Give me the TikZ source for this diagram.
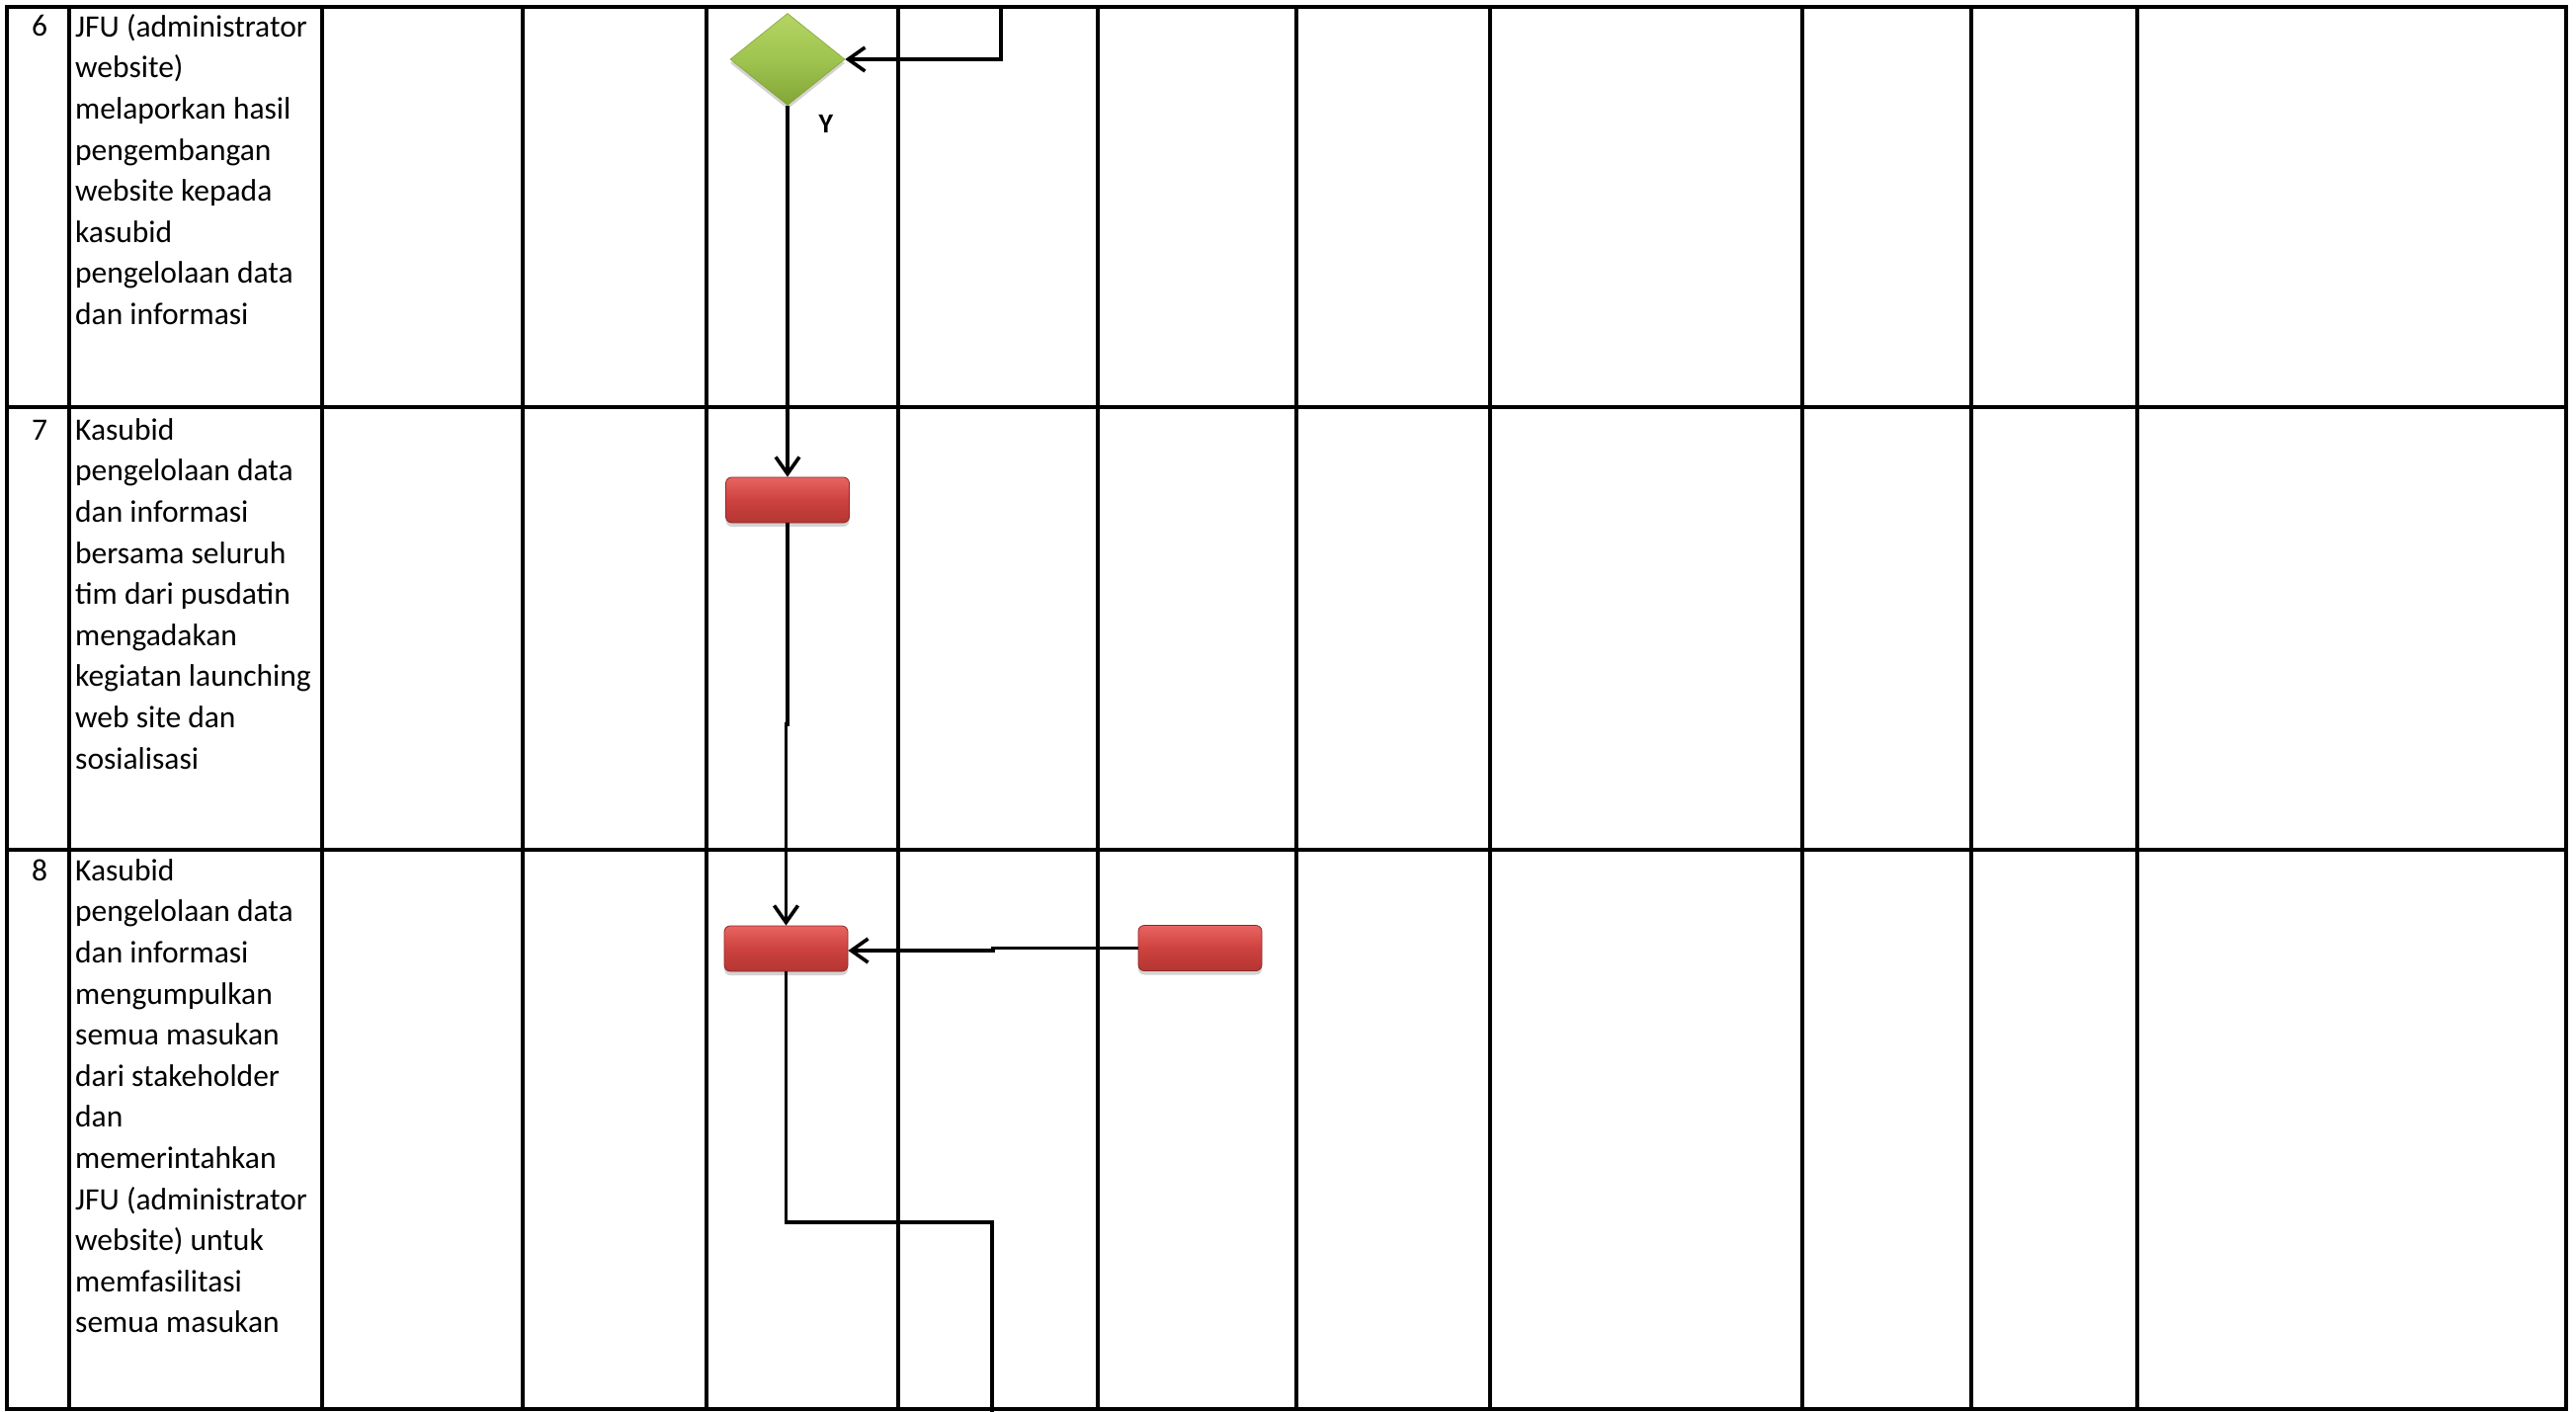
\documentclass[tikz,border=0pt]{standalone}
\usepackage{fontspec}
\setmainfont{Carlito}
\usetikzlibrary{shapes.geometric,arrows.meta,shadows}
\definecolor{redlight}{RGB}{232,100,97}
\definecolor{redmid}{RGB}{205,66,63}
\definecolor{reddark}{RGB}{180,54,51}
\definecolor{redline}{RGB}{140,40,38}
\definecolor{greenlight}{RGB}{180,212,100}
\definecolor{greenmid}{RGB}{160,196,80}
\definecolor{greendark}{RGB}{130,165,54}
\tikzset{
  gridline/.style={line width=3.6pt, black, line cap=rect},
  rowtext/.style={anchor=north west, inner sep=0pt, align=left,
    font=\fontsize{31.5}{41.6}\selectfont},
  numtext/.style={anchor=base, inner sep=0pt, font=\fontsize{31.5}{41.6}\selectfont},
  procbox/.style={rounded corners=6pt, minimum width=125pt, minimum height=46pt,
    inner sep=0pt, draw=redline, line width=0.8pt,
    top color=redlight, bottom color=reddark, middle color=redmid,
    drop shadow={opacity=0.35, shadow xshift=0pt, shadow yshift=-4pt}},
  decbox/.style={diamond, minimum width=116pt, minimum height=93pt, inner sep=0pt,
    draw=greendark, line width=0.6pt,
    top color=greenlight, bottom color=greendark, middle color=greenmid,
    drop shadow={opacity=0.35, shadow xshift=0pt, shadow yshift=-4pt}},
  conn/.style={line width=3.6pt, black, line join=miter,
    -{Straight Barb[length=17pt,width=24pt,line width=3.6pt]}},
  plainconn/.style={line width=3.6pt, black, line join=miter},
  lab/.style={inner sep=0pt, font=\fontsize{28}{32}\selectfont\bfseries}
}
\begin{document}
\begin{tikzpicture}[x=1pt,y=-1pt]
\useasboundingbox (0,0) rectangle (2607,1429);
% table grid
\foreach \yy in {7,412,860,1426} \draw[gridline] (7,\yy) -- (2597,\yy);
\foreach \xx in {7,70,326,529,715,909,1111,1312,1508,1824,1995,2163,2597}
  \draw[gridline] (\xx,7) -- (\xx,1426);
% row texts
\node[numtext] (n6) at (40,37) {6};
\node[numtext] (n7) at (40,445) {7};
\node[numtext] (n8) at (40,891) {8};
\node[rowtext] (t6) at (76,7) {\rule{0pt}{30pt}JFU (administrator\\website)\\melaporkan hasil\\pengembangan\\website kepada\\kasubid\\pengelolaan data\\dan informasi};
\node[rowtext] (t7) at (76,415) {\rule{0pt}{30pt}Kasubid\\pengelolaan data\\dan informasi\\bersama seluruh\\tim dari pusdatin\\mengadakan\\kegiatan launching\\web site dan\\sosialisasi};
\node[rowtext] (t8) at (76,861) {\rule{0pt}{30pt}Kasubid\\pengelolaan data\\dan informasi\\mengumpulkan\\semua masukan\\dari stakeholder\\dan\\memerintahkan\\JFU (administrator\\website) untuk\\memfasilitasi\\semua masukan};
% shapes
\node[decbox] (dec) at (797,60) {};
\node[procbox] (box7) at (797,506) {};
\node[procbox] (box8a) at (795.5,960) {};
\node[procbox] (box8b) at (1214.5,959.5) {};
\node[lab] (ylab) at (836,125) {Y};
% free ends and bends
\coordinate (ctop) at (1013,7);
\coordinate (j1a) at (797,733);
\coordinate (j1b) at (795.5,733);
\coordinate (j2) at (1005,962);
\coordinate (j3) at (1004,1237);
\coordinate (cbot) at (1004,1429);
% connectors
\draw[conn] (ctop) |- (dec.east);
\draw[conn] (dec.south) -- (box7.north);
\draw[conn] (box7.south) -- (j1a) -- (j1b) -- (box8a.north);
\draw[conn] (box8b.west) -| (j2) -- (box8a.east |- j2);
\draw[plainconn] (box8a.south) |- (j3) -- (cbot);
\end{tikzpicture}
\end{document}
